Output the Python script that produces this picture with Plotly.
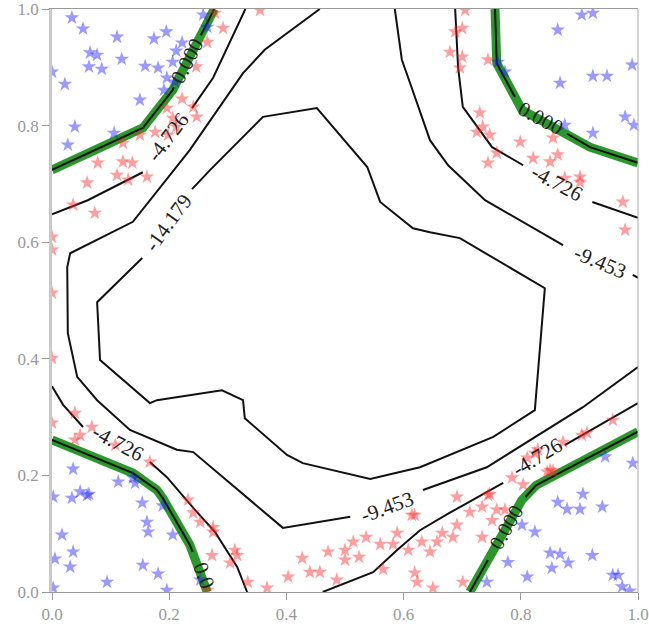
import plotly.graph_objects as go

# ---------------- data ----------------
blue_x = [0.034,0.053,0.111,0.065,0.077,0.119,0.063,0.085,0.174,0.195,0.222,0.212,0.206,0.159,0.181,0.196,0.191,0.150,0.022,0.039,0.027,0.106,0.000,0.258,0.265,0.210,
          0.863,0.904,0.923,0.990,0.923,0.947,0.867,0.761,0.773,0.978,0.993,0.923,0.875,
          0.036,0.113,0.138,0.142,0.002,0.034,0.048,0.060,0.063,0.154,0.189,0.162,0.164,0.206,0.017,0.036,0.005,0.031,0.155,0.181,0.094,0.196,0.002,0.253,
          0.944,0.991,0.906,0.863,0.879,0.901,0.939,0.802,0.824,0.850,0.867,0.922,0.881,0.853,0.778,0.811,0.742,0.957,0.966,0.973,0.986]
blue_y = [0.985,0.966,0.952,0.925,0.921,0.914,0.901,0.897,0.949,0.961,0.942,0.928,0.909,0.902,0.899,0.882,0.861,0.844,0.871,0.798,0.767,0.787,0.892,0.990,0.969,0.875,
          0.964,0.990,0.993,0.904,0.885,0.885,0.873,0.909,0.892,0.815,0.801,0.787,0.801,
          0.211,0.189,0.196,0.187,0.163,0.161,0.172,0.166,0.168,0.153,0.148,0.120,0.103,0.098,0.098,0.069,0.057,0.043,0.046,0.031,0.017,0.003,0.007,0.021,
          0.232,0.221,0.168,0.154,0.142,0.142,0.146,0.115,0.103,0.067,0.065,0.063,0.050,0.041,0.051,0.026,0.017,0.029,0.029,0.009,0.002]

red_x = [0.265,0.246,0.222,0.241,0.247,0.206,0.196,0.212,0.198,0.176,0.150,0.121,0.078,0.121,0.137,0.111,0.162,0.060,0.130,0.036,0.073,
         0.292,0.355,0.278,0.000,0.000,0.000,0.000,0.000,
         0.039,0.068,0.048,0.039,0.108,0.167,0.232,0.241,0.253,0.275,0.273,0.265,
         0.312,0.316,0.304,0.334,0.367,0.403,0.427,0.440,0.457,0.471,0.486,0.500,0.500,0.514,0.524,0.536,0.560,0.565,0.582,0.589,0.614,0.619,0.608,0.631,0.619,0.623,0.275,
         0.957,0.913,0.904,0.872,0.829,0.824,0.811,0.850,0.845,0.855,0.785,0.804,0.747,0.744,0.691,0.713,0.734,0.759,0.773,0.751,0.691,0.666,0.684,0.734,0.657,0.645,0.701,0.650,
         0.705,0.700,0.688,0.679,0.700,0.696,0.744,0.730,0.725,0.735,0.747,0.759,0.744,0.799,0.821,0.850,0.863,0.855,0.875,0.901,0.901,0.974,0.978]
red_y = [0.943,0.901,0.846,0.832,0.815,0.813,0.830,0.798,0.784,0.789,0.784,0.770,0.736,0.738,0.736,0.715,0.712,0.702,0.707,0.664,0.650,
         0.967,0.998,0.993,0.609,0.587,0.513,0.401,0.290,
         0.307,0.283,0.269,0.261,0.252,0.223,0.158,0.136,0.120,0.103,0.063,0.003,
         0.072,0.063,0.050,0.017,0.007,0.026,0.058,0.034,0.034,0.069,0.021,0.072,0.055,0.086,0.060,0.094,0.082,0.039,0.082,0.101,0.132,0.132,0.072,0.086,0.033,0.017,0.111,
         0.295,0.273,0.269,0.257,0.244,0.238,0.230,0.209,0.206,0.208,0.196,0.184,0.168,0.166,0.163,0.137,0.146,0.141,0.141,0.123,0.115,0.101,0.094,0.094,0.086,0.069,0.017,0.007,
         0.998,0.967,0.961,0.926,0.918,0.899,0.913,0.822,0.789,0.798,0.784,0.753,0.736,0.772,0.744,0.738,0.750,0.779,0.710,0.712,0.703,0.669,0.621]

# contour level 0 (decision boundary), full paths (green band)
lvl0_paths = [
    [(0.0,0.724),(0.155,0.796),(0.206,0.861),(0.277,1.0)],
    [(0.756,1.0),(0.759,0.907),(0.802,0.827),(0.872,0.789),(0.918,0.763),(1.0,0.736)],
    [(0.0,0.261),(0.138,0.204),(0.179,0.175),(0.189,0.161),(0.235,0.081),(0.265,0.0)],
    [(0.713,0.0),(0.802,0.158),(0.826,0.183),(1.0,0.275)],
]
# labelled contour pieces (gaps left where inline labels sit)
lvl0_segs = [
    [(0.0,0.724),(0.155,0.796),(0.206,0.861),(0.208,0.866)], [(0.254,0.955),(0.277,1.0)],
    [(0.756,1.0),(0.759,0.907),(0.790,0.849)], [(0.879,0.786),(0.918,0.763),(1.0,0.736)],
    [(0.0,0.261),(0.138,0.204),(0.179,0.175),(0.189,0.161),(0.235,0.081),(0.240,0.069)],
    [(0.713,0.0),(0.744,0.055)], [(0.808,0.163),(0.826,0.183),(1.0,0.275)],
]
lvm1_segs = [
    [(0.0,0.648),(0.061,0.672),(0.155,0.720)], [(0.239,0.830),(0.275,0.882),(0.330,1.0)],
    [(0.688,1.0),(0.693,0.900),(0.701,0.832),(0.751,0.763),(0.804,0.732)], [(0.922,0.669),(1.0,0.642)],
    [(0.0,0.353),(0.019,0.321),(0.053,0.283)], [(0.167,0.223),(0.196,0.197),(0.244,0.141),(0.278,0.103),(0.316,0.043),(0.333,0.0)],
    [(0.462,0.0),(0.548,0.034),(0.589,0.072),(0.628,0.106),(0.679,0.136),(0.770,0.187)], [(0.875,0.252),(1.0,0.324)],
]
lvm2_segs = [
    [(0.457,1.0),(0.363,0.930),(0.326,0.890),(0.235,0.758),(0.138,0.635),(0.031,0.581),(0.026,0.557),(0.027,0.444),
     (0.043,0.369),(0.077,0.329),(0.133,0.278),(0.213,0.244),(0.241,0.240),(0.394,0.110),(0.509,0.129)],
    [(0.633,0.175),(0.742,0.214),(0.906,0.317),(1.0,0.386)],
    [(0.585,1.0),(0.597,0.913),(0.611,0.873),(0.645,0.775),(0.676,0.732),(0.739,0.672),(0.872,0.595)],
    [(0.991,0.544),(1.0,0.539)],
]
lvm3_segs = [
    [(0.239,0.691),(0.270,0.724),(0.360,0.815),(0.452,0.830),(0.538,0.729),(0.560,0.669),(0.616,0.624),(0.645,0.617),
     (0.696,0.607),(0.841,0.521),(0.824,0.312),(0.753,0.266),(0.628,0.214),(0.543,0.194),(0.428,0.221),(0.401,0.235),
     (0.329,0.298),(0.326,0.329),(0.290,0.346),(0.179,0.329),(0.167,0.324),(0.082,0.398),(0.077,0.497),(0.154,0.573)],
]
# inline contour labels: text, x, y, angle
label_text = ["0.000","0.000","0.0","0.000","-4.726","-4.726","-4.726","-4.726","-9.453","-9.453","-14.179"]
label_x    = [0.231, 0.833, 0.259, 0.776, 0.198, 0.862, 0.113, 0.828, 0.572, 0.935, 0.198]
label_y    = [0.910, 0.813, 0.029, 0.111, 0.780, 0.702, 0.256, 0.232, 0.146, 0.566, 0.633]
label_ang  = [-63, 28, 70, -60, -53, 28, 28, -31, -20, 23, -54]

tick_vals = [0.0, 0.2, 0.4, 0.6, 0.8, 1.0]
tick_text = ["0.0", "0.2", "0.4", "0.6", "0.8", "1.0"]


def flatten(segs):
    xs, ys = [], []
    for s in segs:
        for (a, b) in s:
            xs.append(a); ys.append(b)
        xs.append(None); ys.append(None)
    return xs, ys


fig = go.Figure()
gx, gy = flatten(lvl0_paths)
fig.add_trace(go.Scatter(x=gx, y=gy, mode="lines", line=dict(color="rgb(44,152,44)", width=9),
                         hoverinfo="skip", showlegend=False))
for segs in (lvl0_segs, lvm1_segs, lvm2_segs, lvm3_segs):
    sx, sy = flatten(segs)
    fig.add_trace(go.Scatter(x=sx, y=sy, mode="lines", line=dict(color="#111111", width=2),
                             hoverinfo="skip", showlegend=False))

fig.add_trace(go.Scatter(x=red_x, y=red_y, mode="markers",
                         marker=dict(symbol="star", size=11, color="rgba(255,40,40,0.45)", line=dict(width=0)),
                         showlegend=False))
fig.add_trace(go.Scatter(x=blue_x, y=blue_y, mode="markers",
                         marker=dict(symbol="star", size=11, color="rgba(30,30,255,0.45)", line=dict(width=0)),
                         showlegend=False))

for t, x, y, a in zip(label_text, label_x, label_y, label_ang):
    fig.add_annotation(x=x, y=y, text=t, textangle=a, showarrow=False,
                       font=dict(family="Liberation Serif", size=21, color="#222222"))

axis_common = dict(range=[0, 1], tickvals=tick_vals, ticktext=tick_text, showgrid=False, zeroline=False,
                   ticks="outside", ticklen=7, tickcolor="#999999", tickwidth=1, automargin=False,
                   ticklabeloverflow="allow",
                   tickfont=dict(family="Liberation Serif", size=17, color="#999999"))
fig.update_xaxes(**axis_common, showline=True, linecolor="#999999", linewidth=1, mirror=True)
fig.update_yaxes(**axis_common, showline=True, linecolor="#c8c8c8", linewidth=2.5, mirror=False)
fig.add_shape(type="line", xref="paper", yref="paper", x0=1, x1=1, y0=0, y1=1,
              line=dict(color="#aaaaaa", width=1))

fig.update_layout(width=649, height=627, margin=dict(l=52, r=11, t=9, b=35),
                  plot_bgcolor="white", paper_bgcolor="white", showlegend=False)

fig.write_html("out.html", config={"displayModeBar": False},
               post_script="document.body.style.margin='0px';")
